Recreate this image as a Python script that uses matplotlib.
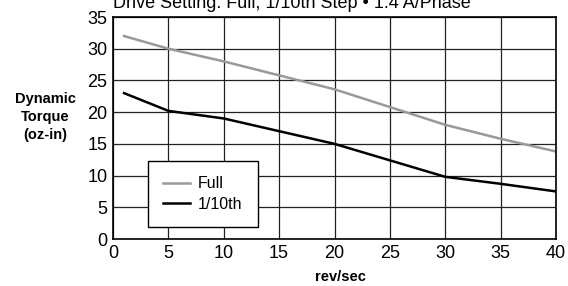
import matplotlib
matplotlib.use('Agg')
import matplotlib.pyplot as plt

plt.rcParams['font.family'] = ['Liberation Sans Narrow', 'Liberation Sans', 'DejaVu Sans']

# Dane
speed = [1, 5, 10, 15, 20, 25, 30, 35, 40]
torque_full = [32, 30, 28, 25.8, 23.6, 20.8, 18, 15.8, 13.8]
torque_tenth = [23, 20.2, 19, 17, 15, 12.4, 9.8, 8.7, 7.5]
x_ticks = [0, 5, 10, 15, 20, 25, 30, 35, 40]
y_ticks = [0, 5, 10, 15, 20, 25, 30, 35]

fig = plt.figure(figsize=(5.68, 2.86), dpi=100)
ax = fig.add_axes([113 / 568, 1 - 239 / 286, 443 / 568, 222 / 286])

ax.plot(speed, torque_full, color='#999999', lw=1.8, label='Full')
ax.plot(speed, torque_tenth, color='black', lw=1.8, label='1/10th')

ax.set_xlim(0, 40)
ax.set_ylim(0, 35)
ax.set_xticks(x_ticks)
ax.set_yticks(y_ticks)
ax.tick_params(length=0, labelsize=13, pad=4)
ax.grid(True, color='#222222', lw=0.9)
for s in ax.spines.values():
    s.set_color('black')
    s.set_linewidth(1.2)

ax.legend(loc='lower left', bbox_to_anchor=(0.078, 0.053), fontsize=11.5, frameon=True,
          fancybox=False, edgecolor='black', framealpha=1, handlelength=1.7,
          handletextpad=0.5, borderaxespad=0, labelspacing=0.35, borderpad=0.95)

fig.text(113 / 568, 1 - 8 / 286, 'Drive Setting: Full, 1/10th Step \u2022 1.4 A/Phase',
         fontsize=13, ha='left', va='baseline')
fig.text(45 / 568, 1 - 117 / 286, 'Dynamic\nTorque\n(oz-in)', fontsize=10.5,
         fontweight='bold', ha='center', va='center', linespacing=1.35)
fig.text(340 / 568, 1 - 277 / 286, 'rev/sec', fontsize=10.5, fontweight='bold',
         ha='center', va='center')

plt.savefig('out.png', dpi=100)
